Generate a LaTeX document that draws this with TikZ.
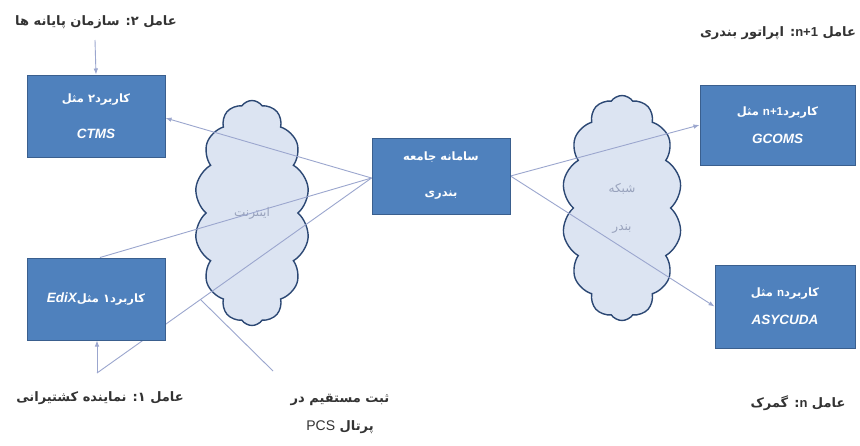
\documentclass[tikz,border=0pt]{standalone}
\usepackage{fontspec}
\setmainfont{Liberation Sans}
\newfontfamily\fa[Script=Arabic]{DejaVu Sans}
\newfontfamily\lat{Liberation Sans}
\TeXXeTstate=1
\usetikzlibrary{shapes.symbols,arrows.meta,calc}

\definecolor{boxfill}{HTML}{4F81BD}
\definecolor{boxline}{HTML}{3A5F8E}
\definecolor{cloudfill}{HTML}{DCE4F2}
\definecolor{cloudline}{HTML}{2C4874}
\definecolor{linkcol}{HTML}{9BA6CE}
\definecolor{labeltext}{HTML}{333333}
\definecolor{cloudtext}{HTML}{98A2BC}

\newcommand\codefont{\lat\bfseries\itshape\fontsize{13.5}{14}\selectfont}

\pgfdeclarelayer{paper}
\pgfdeclarelayer{netlayer}
\pgfdeclarelayer{linklayer}
\pgfsetlayers{paper,netlayer,linklayer,main}

\tikzset{
  appbox/.style={draw=boxline, line width=1pt, fill=boxfill, text=white,
    align=center, inner sep=0pt,
    font=\fa\bfseries\fontsize{11.5}{36}\selectfont},
  net/.style={cloud, cloud puffs=14, cloud puff arc=110, cloud ignores aspect,
    draw=cloudline, line width=1.4pt, fill=cloudfill, inner sep=0pt,
    text=cloudtext, align=center, font=\fa\fontsize{12}{38}\selectfont},
  link/.style={draw=linkcol, line width=0.9pt},
  arr/.style={link, -{Latex[length=6pt,width=4.5pt]}},
  actor/.style={text=labeltext, inner sep=1pt, align=center,
    font=\fa\bfseries\fontsize{13}{28}\selectfont}
}

\begin{document}
\begin{tikzpicture}[x=1pt,y=-1pt]
  \begin{pgfonlayer}{paper}
    \useasboundingbox[fill=white] (0,0) rectangle (860,445);
  \end{pgfonlayer}

  % networks
  \begin{pgfonlayer}{netlayer}
  \node[net, minimum width=115pt, minimum height=225pt] (inet) at (252,213)
    {\beginR اینترنت\endR};
  \node[net, minimum width=120pt, minimum height=225pt] (port) at (622,208)
    {\beginR شبکه\endR\\\beginR بندر\endR};
  \end{pgfonlayer}

  % actors and notes
  \node[actor] (a2) at (96,22) {\beginR عامل ۲: سازمان پایانه ها\endR};
  \node[actor] (a1) at (100,398) {\beginR عامل ۱: نماینده کشتیرانی\endR};
  \node[actor] (an1) at (778,33)
    {\beginR عامل \beginL{\lat\bfseries n+1}\endL: اپراتور بندری\endR};
  \node[actor] (an) at (798,403)
    {\beginR عامل \beginL{\lat\bfseries n}\endL: گمرک\endR};
  \node[actor] (pcs) at (340,414)
    {\beginR ثبت مستقیم در\endR\\\beginR پرتال \beginL{\lat\mdseries\fontsize{14}{14}\selectfont PCS}\endL\endR};

  \coordinate (a1top) at (97,373);
  \coordinate (a2bot) at (95,40);
  \coordinate (pcslead) at (273,371);

  % application boxes
  \node[appbox, minimum width=138pt, minimum height=82pt] (ctms) at (96,116)
    {\beginR کاربرد۲ مثل\endR\\{\codefont CTMS}};
  \node[appbox, minimum width=138pt, minimum height=82pt] (edix) at (96,299)
    {\beginR کاربرد۱ مثل\beginL{\codefont EdiX}\endL\endR};
  \node[appbox, minimum width=138pt, minimum height=76pt] (hub) at (441,176)
    {\beginR سامانه جامعه\endR\\\beginR بندری\endR};
  \node[appbox, minimum width=155pt, minimum height=80pt] (gcoms) at (777.5,125)
    {\beginR کاربرد\beginL{\lat\bfseries n+1}\endL{} مثل\endR\\[-8pt]{\codefont GCOMS}};
  \node[appbox, minimum width=140pt, minimum height=83pt] (asy) at (785,306.5)
    {\beginR کاربرد\beginL{\lat\bfseries n}\endL{} مثل\endR\\[-8pt]{\codefont ASYCUDA}};

  % links, drawn beneath the boxes
  \coordinate (hubw) at ([yshift=-2pt]hub.west);
  \coordinate (hube) at (hub.east);
  \coordinate (onpcs) at ($(a1top)!0.377!(hubw)$);
  \begin{pgfonlayer}{linklayer}
    \draw[arr] (a2bot) -- (ctms.north);
    \draw[arr] (a1top) -- (a1top |- edix.south);
    \draw[arr] (hubw) -- ([yshift=-2pt]ctms.east);
    \draw[link] (hubw) -- ([xshift=4pt]edix.north);
    \draw[link] (a1top) -- (hubw);
    \draw[link] (pcslead) -- (onpcs);
    \draw[arr] (hube) -- (gcoms.west);
    \draw[arr] (hube) -- (asy.west);
  \end{pgfonlayer}
\end{tikzpicture}
\end{document}
